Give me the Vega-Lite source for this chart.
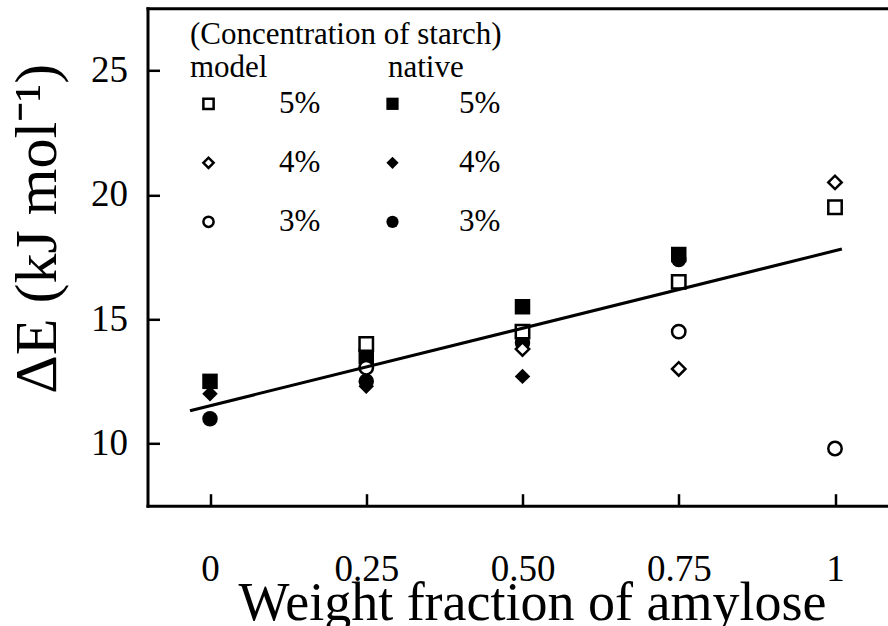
{
  "$schema": "https://vega.github.io/schema/vega-lite/v6.json",
  "width": 740.5,
  "height": 497.4,
  "autosize": {"type": "none"},
  "padding": {"left": 147.5, "top": 8.3, "right": 0, "bottom": 120.3},
  "background": "white",
  "config": {
    "view": {"stroke": null},
    "font": "Liberation Serif, Times New Roman, serif",
    "axis": {
      "domainColor": "black", "domainWidth": 3, "domainCap": "square",
      "tickColor": "black", "tickWidth": 2.5, "tickSize": -12,
      "labelColor": "black", "labelFont": "Liberation Serif, Times New Roman, serif", "labelFontSize": 37,
      "titleFont": "Liberation Serif, Times New Roman, serif", "titleColor": "black", "titleFontWeight": "normal",
      "grid": false
    },
    "axisLeft": {"labelPadding": 32},
    "legend": {
      "titleFont": "Liberation Serif, Times New Roman, serif", "titleFontWeight": "normal", "titleColor": "black",
      "titleFontSize": 31, "titleLineHeight": 33, "titleLimit": 500,
      "labelFont": "Liberation Serif, Times New Roman, serif", "labelColor": "black", "labelFontSize": 31,
      "padding": 0
    }
  },
  "datasets": {
    "native": [
      {"fraction": 0, "dE": 12.5, "conc": "5%"},
      {"fraction": 0, "dE": 12.0, "conc": "4%"},
      {"fraction": 0, "dE": 11.0, "conc": "3%"},
      {"fraction": 0.25, "dE": 13.5, "conc": "5%"},
      {"fraction": 0.25, "dE": 12.3, "conc": "4%"},
      {"fraction": 0.25, "dE": 12.5, "conc": "3%"},
      {"fraction": 0.5, "dE": 15.5, "conc": "5%"},
      {"fraction": 0.5, "dE": 12.7, "conc": "4%"},
      {"fraction": 0.5, "dE": 14.05, "conc": "3%"},
      {"fraction": 0.75, "dE": 17.6, "conc": "5%"},
      {"fraction": 0.75, "dE": 17.4, "conc": "3%"}
    ],
    "model": [
      {"fraction": 0.25, "dE": 14.0, "conc": "5%"},
      {"fraction": 0.25, "dE": 13.05, "conc": "3%"},
      {"fraction": 0.5, "dE": 14.5, "conc": "5%"},
      {"fraction": 0.5, "dE": 13.8, "conc": "4%"},
      {"fraction": 0.75, "dE": 16.5, "conc": "5%"},
      {"fraction": 0.75, "dE": 14.5, "conc": "3%"},
      {"fraction": 0.75, "dE": 13.0, "conc": "4%"},
      {"fraction": 1, "dE": 19.5, "conc": "5%"},
      {"fraction": 1, "dE": 20.5, "conc": "4%"},
      {"fraction": 1, "dE": 9.8, "conc": "3%"}
    ],
    "fit": [
      {"fraction": -0.032, "dE": 11.32},
      {"fraction": 1.011, "dE": 17.82}
    ]
  },
  "layer": [
    {
      "data": {"name": "native"},
      "mark": {"type": "point", "filled": true, "color": "black", "size": 240, "opacity": 1},
      "encoding": {
        "x": {
          "field": "fraction", "type": "quantitative",
          "scale": {"domain": [-0.1, 1.0848], "nice": false, "zero": false},
          "axis": {
            "orient": "bottom",
            "values": [0, 0.25, 0.5, 0.75, 1],
            "labelExpr": "datum.value == 0 ? '0' : datum.value == 1 ? '1' : format(datum.value, '.2f')",
            "labelPadding": 58, "labelBaseline": "top", "labelFlush": false,
            "title": "Weight fraction of amylose",
            "titleFont": "Liberation Serif, Times New Roman, serif",
            "titleFontSize": 54, "titleX": 384.5, "titleY": 114, "titleBaseline": "alphabetic", "titleAnchor": null
          }
        },
        "y": {
          "field": "dE", "type": "quantitative",
          "scale": {"domain": [7.5, 27.5], "nice": false, "zero": false},
          "axis": {
            "values": [10, 15, 20, 25],
            "labelPadding": 32, "labelFlush": false,
            "title": "ΔE (kJ mol⁻¹)",
            "titleFont": "Liberation Serif, Times New Roman, serif",
            "titleFontSize": 60, "titleAngle": -90, "titleX": -110, "titleY": 220,
            "titleBaseline": "middle", "titleAlign": "center"
          }
        },
        "shape": {
          "field": "conc", "type": "nominal",
          "scale": {"domain": ["5%", "4%", "3%"], "range": ["square", "diamond", "circle"]},
          "legend": {
            "orient": "none", "legendX": 240.5, "legendY": 45,
            "title": "native", "titlePadding": 4,
            "symbolSize": 150, "symbolFillColor": "black", "symbolStrokeColor": "black", "symbolStrokeWidth": 0,
            "symbolOffset": -11, "labelOffset": 51, "rowPadding": 27, "direction": "vertical"
          }
        }
      }
    },
    {
      "data": {"name": "model"},
      "mark": {"type": "point", "filled": true, "color": "white", "size": 180, "opacity": 1},
      "encoding": {
        "x": {"field": "fraction", "type": "quantitative", "axis": null},
        "y": {"field": "dE", "type": "quantitative"},
        "shape": {
          "field": "conc", "type": "nominal",
          "scale": {"domain": ["5%", "4%", "3%"], "range": ["square", "diamond", "circle"]},
          "legend": null
        }
      }
    },
    {
      "data": {"name": "model"},
      "mark": {"type": "point", "filled": false, "color": "black", "strokeWidth": 2.5, "size": 180, "opacity": 1},
      "encoding": {
        "x": {
          "field": "fraction", "type": "quantitative",
          "axis": {"orient": "top", "labels": false, "ticks": false, "title": null}
        },
        "y": {"field": "dE", "type": "quantitative"},
        "shape": {
          "field": "conc", "type": "nominal",
          "scale": {"domain": ["5%", "4%", "3%"], "range": ["square", "diamond", "circle"]},
          "legend": {
            "orient": "none", "legendX": 42.5, "legendY": 12,
            "title": ["(Concentration of starch)", "model"], "titlePadding": 4,
            "symbolSize": 105, "symbolStrokeColor": "black", "symbolStrokeWidth": 2.5,
            "symbolOffset": 3, "labelOffset": 55, "rowPadding": 27, "direction": "vertical",
            "encode": {
              "symbols": {
                "update": {
                  "stroke": {"value": "black"},
                  "strokeWidth": {"value": 2.5}
                }
              }
            }
          }
        }
      }
    },
    {
      "data": {"name": "fit"},
      "mark": {"type": "line", "color": "black", "strokeWidth": 3},
      "encoding": {
        "x": {"field": "fraction", "type": "quantitative", "axis": null},
        "y": {"field": "dE", "type": "quantitative"}
      }
    }
  ],
  "resolve": {
    "scale": {"shape": "independent"},
    "legend": {"shape": "independent"},
    "axis": {"x": "independent"}
  }
}
